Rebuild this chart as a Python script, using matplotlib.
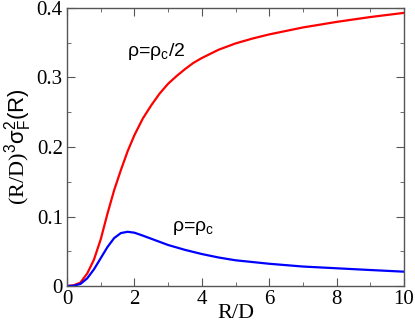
import matplotlib
matplotlib.use("Agg")
import matplotlib.pyplot as plt
from matplotlib.ticker import MultipleLocator

# values
r_half = [0, 0.2, 0.4, 0.6, 0.8, 1.0, 1.2, 1.4, 1.6, 1.8, 2.0, 2.25, 2.5, 2.75,
          3.0, 3.25, 3.5, 3.75, 4.0, 4.5, 5.0, 5.5, 6.0, 6.5, 7.0, 8.0, 9.0, 10.0]
s_half = [0, 0.001, 0.005, 0.018, 0.038, 0.067, 0.104, 0.138, 0.167, 0.194, 0.217,
          0.241, 0.260, 0.277, 0.291, 0.302, 0.312, 0.321, 0.328, 0.340, 0.349,
          0.356, 0.362, 0.367, 0.372, 0.380, 0.387, 0.393]

r_crit = [0, 0.2, 0.4, 0.6, 0.8, 1.0, 1.2, 1.4, 1.6, 1.8, 2.0, 2.25, 2.5, 2.75,
          3.0, 3.5, 4.0, 4.5, 5.0, 6.0, 7.0, 8.0, 9.0, 10.0]
s_crit = [0, 0.0004, 0.003, 0.011, 0.024, 0.040, 0.056, 0.069, 0.0762, 0.078, 0.0767,
          0.0725, 0.068, 0.0635, 0.059, 0.052, 0.046, 0.041, 0.037, 0.032, 0.028,
          0.0255, 0.023, 0.0206]

serif = "Liberation Serif"
sans = "Liberation Sans"
plt.rcParams["mathtext.fontset"] = "custom"
plt.rcParams["mathtext.rm"] = serif
plt.rcParams["mathtext.sf"] = sans
plt.rcParams["mathtext.it"] = sans

fig = plt.figure(figsize=(4.15, 3.25), dpi=100)
ax = fig.add_axes([67/415, 39/325, 337/415, 278/325])

ax.plot(r_half, s_half, color="red", lw=1.6)
ax.plot(r_crit, s_crit, color="blue", lw=1.6)

ax.set_xlim(0, 10)
ax.set_ylim(0, 0.4)
ax.xaxis.set_major_locator(MultipleLocator(2))
ax.xaxis.set_minor_locator(MultipleLocator(1))
ax.yaxis.set_major_locator(MultipleLocator(0.1))
ax.yaxis.set_minor_locator(MultipleLocator(0.05))
ax.tick_params(which="both", direction="in", top=True, right=True, color="#555555")
ax.tick_params(which="major", length=6, labelsize=15, pad=3)
ax.tick_params(which="minor", length=3)
ax.yaxis.set_major_formatter(plt.FuncFormatter(lambda v, p: "0" if v == 0 else f"{v:.1f}"))
for lab in ax.get_xticklabels() + ax.get_yticklabels():
    lab.set_family(serif)
for sp in ax.spines.values():
    sp.set_color("#555555")
    sp.set_linewidth(1.0)

ax.set_xlabel("R/D", fontsize=16, family=serif, labelpad=-4)
ax.set_ylabel(r"$\mathrm{(R/D)}^\mathsf{3}\mathsf{\sigma}_\mathsf{F}^\mathsf{2}\mathsf{(R)}$",
              fontsize=16, labelpad=2)

ax.text(1.78, 0.331, r"ρ=ρ$_\mathsf{c}$/2", fontsize=14, family=sans)
ax.text(3.12, 0.079, r"ρ=ρ$_\mathsf{c}$", fontsize=14, family=sans)

fig.savefig("out.png", dpi=100)
